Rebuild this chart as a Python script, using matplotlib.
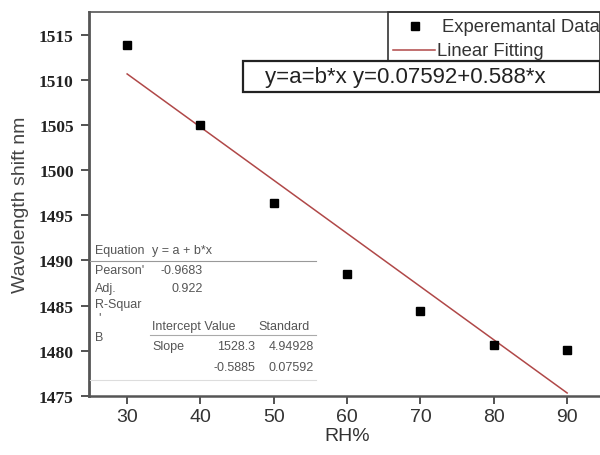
import numpy as np
import matplotlib
matplotlib.use("Agg")
import matplotlib.pyplot as plt
from matplotlib.lines import Line2D
from matplotlib.patches import Rectangle

# humidity sweep and measured wavelength shift
rh = [30, 40, 50, 60, 70, 80, 90]
shift = [1513.9, 1505.0, 1496.4, 1488.5, 1484.4, 1480.6, 1480.1]
# linear fit results
intercept, slope = 1528.3, -0.5885
intercept_err, slope_err = 4.94928, 0.07592
pearson, adj_r2 = -0.9683, 0.922
eq_label = "y=a=b*x y=0.07592+0.588*x"
x_ticks = [30, 40, 50, 60, 70, 80, 90]
y_ticks = [1475, 1480, 1485, 1490, 1495, 1500, 1505, 1510, 1515]

plt.rcParams["font.family"] = ["Liberation Sans", "DejaVu Sans"]
W, H = 600, 456
fig = plt.figure(figsize=(W / 100, H / 100), dpi=100)
ax = fig.add_axes([89 / W, 1 - 397 / H, (606 - 89) / W, (397 - 13) / H])

ax.plot(rh, shift, "s", color="black", ms=5.5, zorder=3)
xf = np.array([rh[0], rh[-1]])
ax.plot(xf, intercept + slope * xf, color="#b04848", lw=1.1, zorder=2)

ax.set_xlim(24.8, 95.3)
ax.set_ylim(1475, 1517.5)
ax.set_xticks(x_ticks)
ax.set_yticks(y_ticks)
for s in ("left", "bottom", "top", "right"):
    ax.spines[s].set_color("#555555")
ax.spines["left"].set_linewidth(2.0)
ax.spines["bottom"].set_linewidth(1.8)
ax.spines["top"].set_linewidth(1.2)
ax.tick_params(axis="x", direction="out", length=6, width=1.3, color="#444444",
               labelsize=14, labelcolor="#333333", pad=3)
ax.tick_params(axis="y", direction="out", length=6, width=1.3, color="#444444",
               labelsize=12.5, labelcolor="#222222", pad=5)
for lbl in ax.get_yticklabels():
    lbl.set_family("Liberation Serif")
    lbl.set_fontweight("bold")
ax.set_xlabel("RH%", fontsize=14, color="#333333", labelpad=1)
ax.set_ylabel("Wavelength shift nm", fontsize=14, color="#444444")
ax.yaxis.set_label_coords(-(89 - 29) / (606 - 89), 0.5)

def px(x, y):
    return x / W, 1 - y / H

# legend box
fig.patches.append(Rectangle(px(388, 62), (W - 388) / W, (62 - 13) / H,
                             transform=fig.transFigure, fill=False,
                             ec="#333333", lw=1.2))
fig.lines.append(Line2D([415 / W], [1 - 27 / H], marker="s", color="black", ms=5.5,
                        transform=fig.transFigure))
fig.lines.append(Line2D([393 / W, 435 / W], [1 - 51 / H] * 2, color="#b04848", lw=1.1,
                        transform=fig.transFigure))
fig.text(*px(442, 27), "Experemantal Data", fontsize=13.3, color="#333333", va="center")
fig.text(*px(437, 51), "Linear Fitting", fontsize=13.3, color="#333333", va="center")

# equation box
fig.patches.append(Rectangle(px(243, 93), (W - 243) / W, (93 - 62) / H,
                             transform=fig.transFigure, fc="white",
                             ec="#222222", lw=1.6))
fig.text(*px(265, 78), eq_label, fontsize=16, color="#222222", va="center")

# fit statistics table
tc = "#555555"
fs = 9
fig.text(*px(95, 251), "Equation", fontsize=fs, color=tc, va="center")
fig.text(*px(152, 251), "y = a + b*x", fontsize=fs, color=tc, va="center")
fig.lines.append(Line2D([90 / W, 316 / W], [1 - 262 / H] * 2, color="#999999", lw=0.8,
                        transform=fig.transFigure))
fig.text(*px(95, 271), "Pearson'", fontsize=fs, color=tc, va="center")
fig.text(*px(203, 271), f"{pearson:.4f}", fontsize=fs, color=tc, va="center", ha="right")
fig.text(*px(95, 289), "Adj.", fontsize=fs, color=tc, va="center")
fig.text(*px(203, 289), f"{adj_r2:.3f}", fontsize=fs, color=tc, va="center", ha="right")
fig.text(*px(95, 305), "R-Squar", fontsize=fs, color=tc, va="center")
fig.text(*px(98, 318), "'", fontsize=fs, color=tc, va="center")
fig.text(*px(95, 338), "B", fontsize=fs, color=tc, va="center")
fig.text(*px(152, 327), "Intercept Value", fontsize=fs, color=tc, va="center")
fig.text(*px(258, 327), "Standard", fontsize=fs, color=tc, va="center")
fig.lines.append(Line2D([150 / W, 316 / W], [1 - 336 / H] * 2, color="#aaaaaa", lw=0.8,
                        transform=fig.transFigure))
fig.text(*px(152, 347), "Slope", fontsize=fs, color=tc, va="center")
fig.text(*px(255, 347), f"{intercept:.1f}", fontsize=fs, color=tc, va="center", ha="right")
fig.text(*px(314, 347), f"{intercept_err:.5f}", fontsize=fs, color=tc, va="center", ha="right")
fig.text(*px(255, 368), f"{slope:.4f}", fontsize=fs, color=tc, va="center", ha="right")
fig.text(*px(314, 368), f"{slope_err:.5f}", fontsize=fs, color=tc, va="center", ha="right")
fig.lines.append(Line2D([90 / W, 316 / W], [1 - 381 / H] * 2, color="#dddddd", lw=0.8,
                        transform=fig.transFigure))

fig.savefig("out.png", dpi=100)
